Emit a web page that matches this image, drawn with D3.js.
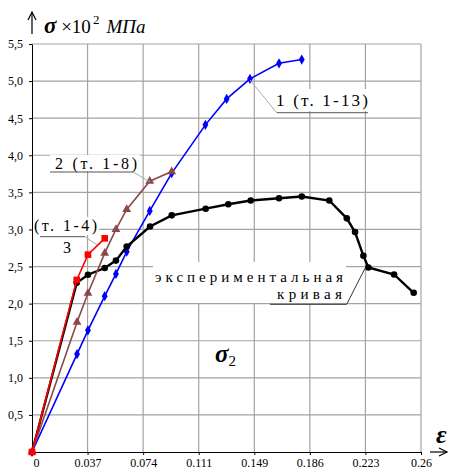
<!DOCTYPE html>
<html><head><meta charset="utf-8">
<script src="https://cdn.jsdelivr.net/npm/d3@7"></script>
<style>
body{margin:0;background:#fff;}
svg text{font-family:"Liberation Serif","Times New Roman","DejaVu Serif",serif !important;}
</style></head>
<body><div id="chart"></div>
<script>
// ---- data ----
const xTickValues = [0, 0.26/7, 0.26*2/7, 0.26*3/7, 0.26*4/7, 0.26*5/7, 0.26*6/7, 0.26];
const xTickLabels = ["0","0.037","0.074","0.111","0.149","0.186","0.223","0.26"];
const yTickValues = [0.5,1,1.5,2,2.5,3,3.5,4,4.5,5,5.5];
const yTickLabels = ["0,5","1,0","1,5","2,0","2,5","3,0","3,5","4,0","4,5","5,0","5,5"];

const eps1 = [0,0.0301,0.0374,0.0486,0.0561,0.0633,0.0787,0.0934,0.1159,0.1301,0.1457,0.1651,0.1803];
const sig1 = [0,1.32,1.64,2.10,2.40,2.70,3.25,3.76,4.41,4.76,5.03,5.24,5.29];
const eps2 = [0,0.0301,0.0374,0.0486,0.0561,0.0633,0.0787,0.0934];
const sig2 = [0,1.75,2.14,2.68,3.00,3.27,3.65,3.78];
const eps3 = [0,0.0299,0.0374,0.0486];
const sig3 = [0,2.32,2.66,2.88];
const epsExp = [0,0.0299,0.0374,0.0486,0.0561,0.0633,0.0789,0.0934,0.1161,0.1312,0.1462,0.1651,0.1803,0.1987,0.2104,0.2159,0.2215,0.2248,0.2420,0.2551];
const sigExp = [0,2.28,2.39,2.48,2.58,2.77,3.04,3.19,3.28,3.34,3.39,3.42,3.445,3.39,3.15,2.965,2.645,2.487,2.393,2.146];

const FONT = '"Liberation Serif","Times New Roman","DejaVu Serif",serif';
const W = 450, H = 472;
const svg = d3.select("#chart").append("svg").attr("width", W).attr("height", H)
  .attr("font-family", FONT);
const x = d3.scaleLinear().domain([0, 0.26]).range([32, 421]);
const y = d3.scaleLinear().domain([0, 5.5]).range([452, 44]);

// grid
const gridColor = "#a3a3a3";
svg.append("g").selectAll("line").data(xTickValues.slice(1)).join("line")
  .attr("x1", d => x(d)).attr("x2", d => x(d)).attr("y1", y(0)).attr("y2", y(5.5))
  .attr("stroke", gridColor).attr("stroke-width", 1.2);
svg.append("g").selectAll("line").data(yTickValues).join("line")
  .attr("x1", x(0)).attr("x2", x(0.26)).attr("y1", d => y(d)).attr("y2", d => y(d))
  .attr("stroke", gridColor).attr("stroke-width", 1.2);

// axes
const xAxis = d3.axisBottom(x).tickValues(xTickValues).tickFormat((d, i) => xTickLabels[i]).tickSize(3).tickPadding(3).tickSizeOuter(0);
const gx = svg.append("g").attr("transform", `translate(0,${y(0)})`).call(xAxis).attr("font-family", FONT);
gx.selectAll("text").attr("font-size", 12).attr("fill", "#000").style("font-family", FONT);
gx.select(".domain").attr("stroke", "#000");
gx.selectAll(".tick line").attr("stroke", "#000");
gx.selectAll(".tick").filter((d, i) => i === 0).select("text").attr("dx", 4);

const yAxis = d3.axisLeft(y).tickValues(yTickValues).tickFormat((d, i) => yTickLabels[i]).tickSize(3).tickPadding(6).tickSizeOuter(0);
const gy = svg.append("g").attr("transform", `translate(${x(0)},0)`).call(yAxis).attr("font-family", FONT);
gy.selectAll("text").attr("font-size", 12).attr("fill", "#000").style("font-family", FONT);
gy.select(".domain").attr("stroke", "#000");
gy.selectAll(".tick line").attr("stroke", "#000");

// arrows
svg.append("line").attr("x1", 430).attr("x2", 447).attr("y1", 452).attr("y2", 452).attr("stroke", "#000").attr("stroke-width", 1.2);
svg.append("path").attr("d", "M439,448 L447,452 L439,456").attr("fill", "none").attr("stroke", "#000").attr("stroke-width", 1.2);
svg.append("line").attr("x1", 32).attr("x2", 32).attr("y1", 34).attr("y2", 12).attr("stroke", "#000").attr("stroke-width", 1.2);
svg.append("path").attr("d", "M28,20 L32,12 L36,20").attr("fill", "none").attr("stroke", "#000").attr("stroke-width", 1.2);

// axis titles
const t = svg.append("text").attr("x", 44).attr("y", 33).attr("fill", "#000").style("font-family", FONT);
t.append("tspan").text("σ").attr("font-size", 23).attr("font-weight", "bold").attr("font-style", "italic");
t.append("tspan").text(" ×10").attr("font-size", 19);
t.append("tspan").text("2").attr("font-size", 13).attr("dy", -9).attr("dx", 2);
t.append("tspan").text("МПа").attr("font-size", 19).attr("font-style", "italic").attr("dy", 9).attr("dx", 7);

svg.append("text").attr("x", 436).attr("y", 443).text("ε").attr("font-size", 26).style("font-family", FONT)
  .attr("font-weight", "bold").attr("font-style", "italic").attr("fill", "#000");

const s2 = svg.append("text").attr("x", 215).attr("y", 362).attr("fill", "#000").style("font-family", FONT);
s2.append("tspan").text("σ").attr("font-size", 25).attr("font-weight", "bold").attr("font-style", "italic");
s2.append("tspan").text("2").attr("font-size", 15).attr("dy", 4);

// labels with white background
function label(txt, x0, x1, base, fs) {
  svg.append("text").attr("x", x0).attr("y", base).text(txt).attr("font-size", fs).style("font-family", FONT)
    .attr("textLength", x1 - x0).attr("lengthAdjust", "spacing").attr("fill", "#000");
}
function bg(x0, y0, w, h) { svg.append("rect").attr("x", x0).attr("y", y0).attr("width", w).attr("height", h).attr("fill", "#fff"); }
function seg(x1, y1, x2, y2, c, w) { svg.append("line").attr("x1", x1).attr("y1", y1).attr("x2", x2).attr("y2", y2).attr("stroke", c).attr("stroke-width", w || 1); }

bg(272, 89, 100, 22);
bg(50, 155, 90, 16);
bg(33, 217, 66, 18);
bg(153, 262, 193, 41);

// series
const line = d3.line().x(d => x(d[0])).y(d => y(d[1]));
function series(xs, ys, color, width) {
  const pts = xs.map((v, i) => [v, ys[i]]);
  svg.append("path").datum(pts).attr("d", line).attr("fill", "none").attr("stroke", color).attr("stroke-width", width);
  return pts;
}
const p1 = series(eps1, sig1, "#0000ff", 1.6);
svg.append("g").selectAll("path").data(p1).join("path")
  .attr("d", d3.symbol(d3.symbolDiamond, 30)).attr("transform", d => `translate(${x(d[0])},${y(d[1])})`).attr("fill", "#0000ff");

const pe = series(epsExp, sigExp, "#000", 2.4);
svg.append("g").selectAll("circle").data(pe).join("circle")
  .attr("cx", d => x(d[0])).attr("cy", d => y(d[1])).attr("r", 3.3).attr("fill", "#000");

const p2 = series(eps2, sig2, "#8b4848", 1.6);
svg.append("g").selectAll("path").data(p2).join("path")
  .attr("d", d3.symbol(d3.symbolTriangle, 34)).attr("transform", d => `translate(${x(d[0])},${y(d[1])})`).attr("fill", "#8b4848");

const p3 = series(eps3, sig3, "#ff0000", 1.6);
svg.append("g").selectAll("rect").data(p3).join("rect")
  .attr("x", d => x(d[0]) - 3.3).attr("y", d => y(d[1]) - 3.3).attr("width", 6.6).attr("height", 6.6).attr("fill", "#ff0000");

// annotation texts
label("1 (т. 1-13)", 276, 368, 106, 17);
seg(276.7, 112.7, 368, 112.7, "#555", 1);
seg(250, 80, 276.7, 112.7, "#aaa", 1);

label("2 (т. 1-8)", 55, 137, 169, 16);
seg(50, 172, 133, 172, "#555", 1);
seg(133, 172, 150, 182, "#aaa", 1);

label("(т. 1-4)", 34, 97, 231, 16);
seg(40, 236.7, 85, 236.7, "#555", 1);
seg(85, 236.7, 97, 245, "#aaa", 1);
svg.append("text").attr("x", 63).attr("y", 253).text("3").attr("font-size", 16).attr("fill", "#000").style("font-family", FONT);

label("экспериментальная", 155, 343, 282, 15);
label("кривая", 277, 342, 299, 15);
seg(270, 304.3, 346.7, 304.3, "#333", 1);
seg(346.7, 304.3, 365, 268.3, "#333", 1);
</script></body></html>
